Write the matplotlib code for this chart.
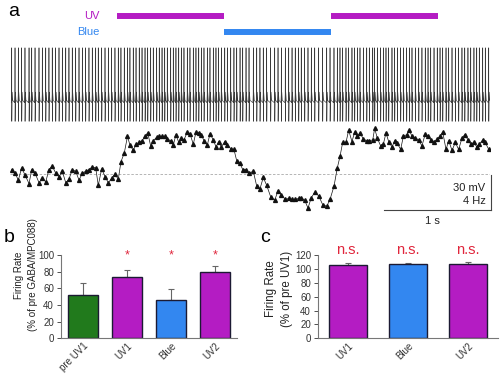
import numpy as np
import matplotlib
matplotlib.use('Agg')
import matplotlib.pyplot as plt

plt.rcParams['font.family'] = ['Liberation Sans', 'DejaVu Sans']

# ── Data ──────────────────────────────────────────────────────────────────────
uv_periods = [(1.0, 2.0), (3.0, 4.0)]      # s
blue_periods = [(2.0, 3.0)]                # s
baseline_rate = 32.5                       # Hz, dashed reference line

# spike times (s) and instantaneous firing rate (Hz) at each spike
spike_t = [
    0.016, 0.047, 0.078, 0.109, 0.140, 0.178, 0.203, 0.234, 0.271, 0.302,
    0.334, 0.364, 0.395, 0.427, 0.458, 0.489, 0.521, 0.551, 0.582, 0.614,
    0.645, 0.676, 0.707, 0.738, 0.769, 0.801, 0.825, 0.857, 0.888, 0.919,
    0.950, 0.981, 1.012, 1.037, 1.068, 1.098, 1.121, 1.152, 1.178, 1.208,
    1.234, 1.262, 1.287, 1.315, 1.339, 1.371, 1.395, 1.421, 1.446, 1.470,
    1.502, 1.526, 1.551, 1.577, 1.601, 1.626, 1.657, 1.682, 1.713, 1.738,
    1.764, 1.788, 1.813, 1.844, 1.869, 1.900, 1.925, 1.950, 1.975, 2.007,
    2.031, 2.063, 2.093, 2.119, 2.150, 2.175, 2.206, 2.234, 2.274, 2.306,
    2.336, 2.367, 2.399, 2.436, 2.474, 2.505, 2.536, 2.573, 2.605, 2.636,
    2.666, 2.698, 2.722, 2.754, 2.785, 2.816, 2.848, 2.885, 2.922, 2.960,
    2.991, 3.028, 3.059, 3.084, 3.109, 3.140, 3.165, 3.196, 3.221, 3.246,
    3.271, 3.302, 3.334, 3.358, 3.390, 3.408, 3.433, 3.464, 3.489, 3.514,
    3.539, 3.570, 3.595, 3.620, 3.651, 3.676, 3.707, 3.732, 3.757, 3.788,
    3.820, 3.850, 3.881, 3.907, 3.932, 3.963, 3.993, 4.019, 4.044, 4.075,
    4.100, 4.131, 4.162, 4.193, 4.224, 4.250, 4.280, 4.306, 4.336, 4.362,
    4.386, 4.418, 4.442, 4.474,
]
rate_hz = [
    33.0, 32.6, 31.8, 33.2, 32.4, 31.4, 33.0, 32.6, 31.5, 32.0,
    31.6, 33.0, 33.4, 32.6, 32.2, 32.8, 31.5, 31.9, 33.0, 32.8,
    31.8, 32.6, 32.8, 33.0, 33.3, 33.2, 31.2, 33.1, 32.2, 31.5,
    32.0, 32.5, 31.9, 33.9, 34.9, 36.8, 35.8, 35.2, 35.9, 36.1,
    36.3, 36.8, 37.2, 35.7, 36.3, 36.7, 36.8, 36.8, 36.8, 36.5,
    36.3, 35.8, 37.0, 36.1, 36.6, 36.4, 37.3, 37.1, 35.9, 37.3,
    37.2, 37.0, 36.3, 35.8, 37.1, 36.4, 35.6, 36.2, 35.6, 36.2,
    35.8, 35.4, 35.3, 34.0, 33.7, 33.0, 33.0, 32.6, 32.8, 31.1,
    30.8, 32.1, 31.2, 29.9, 29.5, 30.6, 30.1, 29.6, 29.7, 29.6,
    29.6, 29.7, 29.8, 29.5, 28.6, 29.8, 30.4, 30.0, 29.0, 28.8,
    29.6, 31.1, 33.2, 34.5, 36.1, 36.1, 37.5, 36.2, 37.3, 36.8,
    37.2, 36.5, 36.3, 36.3, 36.4, 37.7, 36.6, 35.7, 35.9, 37.2,
    36.2, 35.6, 36.3, 36.0, 35.3, 36.8, 37.0, 37.5, 36.8, 36.6,
    36.4, 35.7, 37.1, 36.8, 36.4, 36.1, 36.5, 36.8, 37.3, 35.3,
    36.3, 35.2, 36.1, 35.3, 36.6, 37.0, 36.4, 35.9, 36.1, 35.6,
    35.9, 36.4, 36.1, 35.3,
]

# panel b: % of pre GABA/MPC088
b_labels = ['pre UV1', 'UV1', 'Blue', 'UV2']
b_values = [52, 73, 46, 79]
b_errors = [14, 9.5, 13, 7.5]
b_signif = ['', '*', '*', '*']

# panel c: % of pre UV1
c_labels = ['UV1', 'Blue', 'UV2']
c_values = [105, 106.5, 107]
c_errors = [3, 2.5, 2.5]
c_signif = ['n.s.', 'n.s.', 'n.s.']

# ── Style ─────────────────────────────────────────────────────────────────────
UV = '#b41cc3'
BLUE = '#3387f0'
GREEN = '#217a1c'
RED = '#e0263c'
EDGE = '#1c1a33'
b_colors = [GREEN, UV, BLUE, UV]
c_colors = [UV, BLUE, UV]

W, H = 500, 375


def rect(x0, y0, x1, y1):
    # pixel box (top-left origin) -> figure fraction
    return [x0 / W, 1 - y1 / H, (x1 - x0) / W, (y1 - y0) / H]


fig = plt.figure(figsize=(5, 3.75), dpi=100)
T0, T1 = 0.0, 4.486

# ── Panel a: light stimuli ───────────────────────────────────────────────────
ax_s = fig.add_axes(rect(10, 8, 490, 40))
ax_s.axis('off')
ax_s.set_xlim(T0, T1)
ax_s.set_ylim(1, 0)
for a, b in uv_periods:
    ax_s.plot([a, b], [0.26, 0.26], color=UV, lw=4.3, solid_capstyle='butt')
for a, b in blue_periods:
    ax_s.plot([a, b], [0.76, 0.76], color=BLUE, lw=4.3, solid_capstyle='butt')
ax_s.text(0.84, 0.26, 'UV', color=UV, fontsize=8, ha='right', va='center')
ax_s.text(0.84, 0.76, 'Blue', color=BLUE, fontsize=8, ha='right', va='center')

# ── Panel a: spike trace ─────────────────────────────────────────────────────
ax_v = fig.add_axes(rect(10, 42, 490, 126))
ax_v.axis('off')
ax_v.set_xlim(T0, T1)
ax_v.set_ylim(-24, 48)
vt, vv = [], []
for t in spike_t:
    # simple spike shape drawn at each recorded spike time
    vt += [t - 0.004, t - 0.001, t, t + 0.0008, t + 0.004, t + 0.009]
    vv += [-4, 3, 43, -20, 5, -2]
ax_v.plot(vt, vv, color='#3a3a3a', lw=0.45)

# ── Panel a: firing rate ─────────────────────────────────────────────────────
ax_r = fig.add_axes(rect(10, 125, 490, 215))
ax_r.axis('off')
ax_r.set_xlim(T0, T1)
ax_r.set_ylim(27.81, 38.1)
ax_r.axhline(baseline_rate, color='#aaaaaa', lw=0.6, dashes=(3, 2))
ax_r.plot(spike_t, rate_hz, color='#111111', lw=0.5, marker='^', ms=2.8)

# scale bars: 30 mV / 4 Hz vertical, 1 s horizontal
sx = 4.495
sy = baseline_rate - 0.11
ax_r.plot([sx, sx], [sy, sy - 4], color='#444444', lw=0.8, clip_on=False)
ax_r.plot([sx - 1, sx], [sy - 4, sy - 4], color='#444444', lw=0.8, clip_on=False)
ax_r.text(sx - 0.05, sy - 1.45, '30 mV', fontsize=8, ha='right', va='center', color='#222222')
ax_r.text(sx - 0.05, sy - 2.95, '4 Hz', fontsize=8, ha='right', va='center', color='#222222')
ax_r.text(sx - 0.55, sy - 5.3, '1 s', fontsize=8, ha='center', va='center',
          color='#222222', clip_on=False)


# ── Panels b and c: bar charts ───────────────────────────────────────────────
def bar_panel(box, labels, values, errors, colors, signif, ymax, width, sig_y, sig_size):
    ax = fig.add_axes(rect(*box))
    x = np.arange(len(labels))
    ax.bar(x, values, width=width, color=colors, edgecolor=EDGE, linewidth=1.0, zorder=2)
    ax.errorbar(x, values, yerr=[np.zeros(len(errors)), errors], fmt='none',
                ecolor='#666666', elinewidth=0.8, capsize=2, capthick=0.8, zorder=1)
    for xi, s in zip(x, signif):
        if s:
            ax.text(xi, sig_y, s, color=RED, fontsize=sig_size, ha='center',
                    va='center', clip_on=False)
    ax.set_xlim(-0.5, len(labels) - 0.5)
    ax.set_ylim(0, ymax)
    ax.set_yticks(np.arange(0, ymax + 1, 20))
    ax.set_xticks(x)
    ax.set_xticklabels(labels, rotation=45, ha='right', rotation_mode='anchor')
    for side in ['top', 'right']:
        ax.spines[side].set_visible(False)
    for side in ['left', 'bottom']:
        ax.spines[side].set_color('#777777')
        ax.spines[side].set_linewidth(0.8)
    ax.tick_params(axis='y', labelsize=7, colors='#333333', length=3, width=0.6, pad=2)
    ax.tick_params(axis='x', labelsize=7, colors='#333333', length=0, pad=2)
    return ax


bar_panel((61, 255, 237, 338.3), b_labels, b_values, b_errors, b_colors,
          b_signif, 100, 0.7, 100, 9)
bar_panel((318, 255, 498, 338.3), c_labels, c_values, c_errors, c_colors,
          c_signif, 120, 0.63, 127, 10.5)

fig.text(26 / W, 1 - 275 / H, 'Firing Rate\n(% of pre GABA/MPC088)', rotation=90,
         ha='center', va='center', fontsize=7, linespacing=1.6, color='#222222')
fig.text(279 / W, 1 - 289 / H, 'Firing Rate\n(% of pre UV1)', rotation=90,
         ha='center', va='center', fontsize=8.3, linespacing=1.4, color='#222222')

# panel letters
fig.text(8 / W, 1 - 12 / H, 'a', fontsize=14, ha='left', va='center')
fig.text(4 / W, 1 - 237 / H, 'b', fontsize=14, ha='left', va='center')
fig.text(260 / W, 1 - 237 / H, 'c', fontsize=14, ha='left', va='center')

fig.savefig('out.png', dpi=100)
